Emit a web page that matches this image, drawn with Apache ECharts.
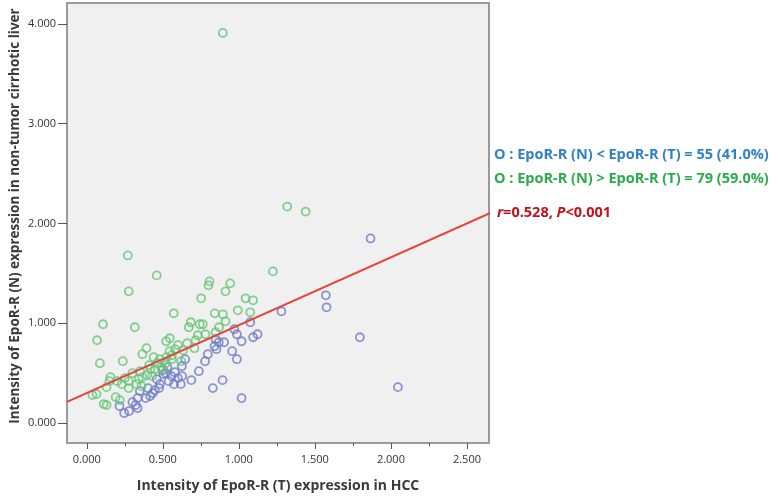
<!DOCTYPE html>
<html>
<head>
<meta charset="utf-8">
<script src="https://cdn.jsdelivr.net/npm/echarts@6/dist/echarts.min.js"></script>
<style>html,body{margin:0;padding:0;background:#fff}#c{width:778px;height:498px}</style>
</head>
<body>
<div id="c"></div>
<script>
// Blue: EpoR-R (N) < EpoR-R (T)  [T, N]
const bluePoints = [
 [1.866,1.85],[1.572,1.28],[1.577,1.16],[1.28,1.12],[1.796,0.86],[2.046,0.36],
 [1.075,1.01],[0.97,0.94],[0.987,0.89],[1.018,0.82],[1.094,0.86],[1.123,0.89],
 [0.847,0.84],[0.868,0.81],[0.903,0.81],[0.853,0.74],[0.956,0.72],[0.987,0.64],
 [0.796,0.69],[0.778,0.62],[0.737,0.52],[0.647,0.64],[0.625,0.57],[0.627,0.47],
 [0.688,0.43],[0.579,0.51],[0.557,0.47],[0.52,0.50],[0.504,0.49],[0.574,0.39],
 [0.539,0.42],[0.618,0.39],[0.48,0.39],[0.476,0.35],[0.447,0.33],[0.403,0.35],
 [0.434,0.30],[0.417,0.27],[0.388,0.25],[0.349,0.32],[0.334,0.25],[0.322,0.18],
 [0.334,0.15],[0.278,0.12],[0.246,0.10],[0.215,0.17],[0.829,0.35],[0.893,0.43],
 [1.018,0.25],[0.50,0.53],[0.46,0.44],[0.60,0.45],[0.53,0.56],[0.84,0.77],[0.30,0.21]
];
// Green: EpoR-R (N) > EpoR-R (T)
const greenPoints = [
 [0.895,3.91],[1.318,2.17],[1.439,2.12],[0.27,1.68],[0.46,1.48],[0.276,1.32],
 [0.807,1.42],[0.80,1.38],[0.943,1.40],[0.912,1.32],[1.224,1.52],[0.752,1.25],
 [1.044,1.25],[1.094,1.23],[0.572,1.10],[0.842,1.10],[0.895,1.09],[0.993,1.13],
 [1.075,1.11],[0.912,1.02],[0.107,0.99],[0.316,0.96],[0.684,1.01],[0.671,0.96],
 [0.743,0.99],[0.763,0.99],[0.87,0.96],[0.847,0.91],[0.78,0.89],[0.068,0.83],
 [0.546,0.85],[0.522,0.82],[0.715,0.83],[0.708,0.75],[0.393,0.75],[0.366,0.69],
 [0.544,0.72],[0.581,0.74],[0.634,0.73],[0.086,0.60],[0.237,0.62],[0.524,0.66],
 [0.559,0.64],[0.463,0.60],[0.491,0.56],[0.447,0.54],[0.502,0.54],[0.419,0.54],
 [0.156,0.46],[0.149,0.42],[0.276,0.42],[0.342,0.44],[0.366,0.46],[0.397,0.48],
 [0.43,0.47],[0.23,0.39],[0.276,0.35],[0.327,0.39],[0.36,0.37],[0.13,0.36],
 [0.037,0.28],[0.064,0.29],[0.19,0.26],[0.217,0.23],[0.112,0.19],[0.13,0.18],
 [0.60,0.78],[0.48,0.64],[0.41,0.58],[0.52,0.60],[0.56,0.68],[0.66,0.80],
 [0.30,0.50],[0.25,0.45],[0.20,0.42],[0.44,0.66],[0.62,0.62],[0.35,0.52],[0.73,0.88]
];
const xTicks = [0, 0.5, 1, 1.5, 2, 2.5];
const xMinorTicks = [0.25, 0.75, 1.25, 1.75, 2.25];
const yTicks = [0, 1, 2, 3, 4];
const regIntercept = 0.30;
const regSlope = 0.68;
const regX = [-0.13, 2.665];
const xTitle = 'Intensity of EpoR-R (T) expression in HCC';
const yTitle = 'Intensity of EpoR-R (N) expression in non-tumor cirrhotic liver';
const legendTexts = [
 'O : EpoR-R (N) < EpoR-R (T) = 55 (41.0%)',
 'O : EpoR-R (N) > EpoR-R (T) = 79 (59.0%)'
];

const XMIN = -0.13, XMAX = 2.645, YMIN = -0.2, YMAX = 4.21;
const font = '"Open Sans", sans-serif';
const chart = echarts.init(document.getElementById('c'));
const regLine = regX.map(x => [x, regIntercept + regSlope * x]);

chart.setOption({
  animation: false,
  grid: {left: 67, top: 3, right: 289, bottom: 54, show: true,
         backgroundColor: '#f0f0f0', borderColor: '#7c7c7c', borderWidth: 1.5},
  xAxis: [{
    type: 'value', min: XMIN, max: XMAX, position: 'bottom',
    name: xTitle, nameLocation: 'middle', nameGap: 36,
    nameTextStyle: {fontFamily: font, fontSize: 14, fontWeight: 'bold', color: '#3a3a3a'},
    axisLine: {show: false, onZero: false}, splitLine: {show: false},
    axisTick: {show: true, length: 6, customValues: xTicks, lineStyle: {color: '#555'}},
    axisLabel: {customValues: xTicks, fontFamily: font, fontSize: 11, color: '#333', margin: 11,
                formatter: v => v.toFixed(3)}
  }, {
    type: 'value', min: XMIN, max: XMAX, position: 'bottom',
    axisLine: {show: false, onZero: false}, splitLine: {show: false},
    axisTick: {show: true, length: 3, customValues: xMinorTicks, lineStyle: {color: '#555'}},
    axisLabel: {show: false}
  }],
  yAxis: {
    type: 'value', min: YMIN, max: YMAX, position: 'left',
    axisLine: {show: false, onZero: false}, splitLine: {show: false},
    axisTick: {show: true, length: 9, customValues: yTicks, lineStyle: {color: '#555'}},
    axisLabel: {customValues: yTicks, fontFamily: font, fontSize: 11, color: '#333', margin: 11,
                formatter: v => v.toFixed(3)}
  },
  series: [
    {type: 'scatter', data: bluePoints, symbol: 'circle', symbolSize: 8,
     itemStyle: {color: 'rgba(0,0,0,0)', borderColor: '#6f7cc4', borderWidth: 1.8}},
    {type: 'scatter', data: greenPoints, symbol: 'circle', symbolSize: 8,
     itemStyle: {color: 'rgba(0,0,0,0)', borderColor: '#68c476', borderWidth: 1.8}},
    {type: 'line', data: regLine, clip: false, symbol: 'none', z: 5,
     lineStyle: {color: '#e8413c', width: 2}}
  ],
  graphic: [
    {type: 'text', x: 15, y: 216, rotation: Math.PI / 2,
     style: {text: yTitle, fill: '#3a3a3a', font: 'bold 13.5px ' + font,
             align: 'center', verticalAlign: 'middle'}},
    {type: 'text', left: 494, top: 147, style: {text: legendTexts[0], fill: '#2f82c8',
      font: 'bold 14.5px ' + font}},
    {type: 'text', left: 494, top: 171, style: {text: legendTexts[1], fill: '#2aab4c',
      font: 'bold 14.5px ' + font}},
    {type: 'text', left: 497, top: 205, style: {
      text: '{i|r}=0.528, {i|P}<0.001', fill: '#c0131c', font: 'bold 14.5px ' + font,
      rich: {i: {fontStyle: 'italic', fontWeight: 'bold', fontSize: 14.5, fontFamily: font, fill: '#c0131c'}}}}
  ]
});
</script>
</body>
</html>
